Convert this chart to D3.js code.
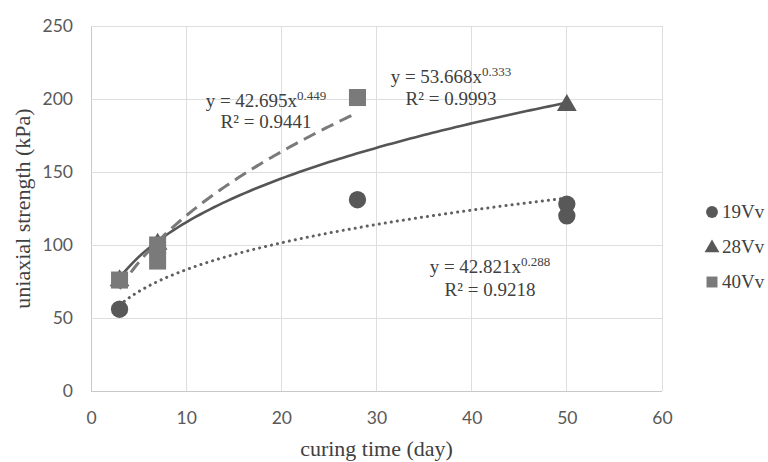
<!DOCTYPE html>
<html><head><meta charset="utf-8">
<script src="https://cdn.jsdelivr.net/npm/d3@7"></script>
<style>body{margin:0;background:#fff}svg{display:block}</style>
</head><body>
<svg id="c" width="768" height="462"></svg>
<script>
const xTicks = [0,10,20,30,40,50,60];
const yTicks = [0,50,100,150,200,250];
const series = ["19Vv","28Vv","40Vv"];
const days19 = [3,28,50,50];
const vals19 = [56,131,128,120];
const days28 = [3,7,50];
const vals28 = [77,102,197];
const days40 = [3,7,7,28];
const vals40 = [76,100,89,201];
const fitA = [42.821,53.668,42.695];
const fitB = [0.288,0.333,0.449];
const fitRange = [[3,50],[3,50],[3,28]];
const fitR2 = ["0.9218","0.9993","0.9441"];

const svg = d3.select("#c");
const x = d3.scaleLinear().domain([0,60]).range([91,662]);
const y = d3.scaleLinear().domain([0,250]).range([391,26]);

// gridlines
svg.append("g").selectAll("line.v").data(xTicks).join("line")
  .attr("x1",d=>x(d)).attr("x2",d=>x(d)).attr("y1",y(0)).attr("y2",y(250))
  .attr("stroke",d=>d===0?"#c8c8c8":"#dedede").attr("stroke-width",1).attr("shape-rendering","crispEdges");
svg.append("g").selectAll("line.h").data(yTicks).join("line")
  .attr("x1",x(0)).attr("x2",x(60)).attr("y1",d=>y(d)).attr("y2",d=>y(d))
  .attr("stroke",d=>d===0?"#c8c8c8":"#dedede").attr("stroke-width",1).attr("shape-rendering","crispEdges");

// axes via d3 axis (labels only)
const xAxis = svg.append("g").attr("transform",`translate(0,${y(0)})`)
  .call(d3.axisBottom(x).tickValues(xTicks).tickSize(0).tickPadding(21));
const yAxis = svg.append("g").attr("transform",`translate(${x(0)},0)`)
  .call(d3.axisLeft(y).tickValues(yTicks).tickSize(0).tickPadding(18));
[xAxis,yAxis].forEach(g=>{
  g.select(".domain").remove();
  g.selectAll("text").attr("font-family","Lato, 'Open Sans', sans-serif").attr("font-size",17.5).attr("fill","#595959");
});

// axis titles
const serif = "'Liberation Serif', 'Times New Roman', serif";
svg.append("text").attr("x",(x(0)+x(60))/2).attr("y",456).attr("text-anchor","middle")
  .attr("font-family",serif).attr("font-size",22).attr("fill","#404040")
  .text("curing time (day)");
svg.append("text").attr("transform",`translate(30,${(y(0)+y(250))/2}) rotate(-90)`).attr("text-anchor","middle")
  .attr("font-family",serif).attr("font-size",22).attr("fill","#404040")
  .text("uniaxial strength (kPa)");

// trendlines
const styles = [
  {stroke:"#606060", w:3, dash:"0.1 6", cap:"round"},
  {stroke:"#555555", w:2.6, dash:null, cap:"butt"},
  {stroke:"#7a7a7a", w:3, dash:"13 7", cap:"butt"}
];
const line = d3.line().x(d=>x(d[0])).y(d=>y(d[1])).curve(d3.curveLinear);
series.forEach((s,i)=>{
  const [a,b] = fitRange[i];
  const pts = d3.range(0,101).map(k=>{const t=a+(b-a)*k/100; return [t, fitA[i]*Math.pow(t,fitB[i])];});
  const p = svg.append("path").attr("d",line(pts)).attr("fill","none")
    .attr("stroke",styles[i].stroke).attr("stroke-width",styles[i].w).attr("stroke-linecap",styles[i].cap);
  if(styles[i].dash) p.attr("stroke-dasharray",styles[i].dash);
});

// markers
const sym = {
  "19Vv": d3.symbol().type(d3.symbolCircle).size(235),
  "28Vv": d3.symbol().type(d3.symbolTriangle).size(170),
  "40Vv": d3.symbol().type(d3.symbolSquare).size(290)
};
const fill = {"19Vv":"#585858","28Vv":"#585858","40Vv":"#7a7a7a"};
const data = {
  "19Vv": days19.map((d,i)=>[d,vals19[i]]),
  "28Vv": days28.map((d,i)=>[d,vals28[i]]),
  "40Vv": days40.map((d,i)=>[d,vals40[i]])
};
["28Vv","40Vv","19Vv"].forEach(s=>{
  svg.append("g").selectAll("path").data(data[s]).join("path")
    .attr("d",sym[s]()).attr("fill",fill[s])
    .attr("transform",d=>`translate(${x(d[0])},${y(d[1])+(s==="28Vv"?2:0)})`);
});

// equations
const eqPos = [[490,273,296],[451,83,105],[266,107,128]];
series.forEach((s,i)=>{
  const [cx,y1,y2] = eqPos[i];
  const t = svg.append("text").attr("x",cx).attr("y",y1).attr("text-anchor","middle")
    .attr("font-family",serif).attr("font-size",19).attr("fill","#404040");
  t.append("tspan").text(`y = ${fitA[i].toFixed(3)}x`);
  t.append("tspan").attr("dy",-7).attr("font-size",13).text(fitB[i].toFixed(3));
  svg.append("text").attr("x",cx).attr("y",y2).attr("text-anchor","middle")
    .attr("font-family",serif).attr("font-size",19).attr("fill","#404040")
    .text(`R² = ${fitR2[i]}`);
});

// legend
const lg = svg.append("g");
series.forEach((s,i)=>{
  const ly = 212 + i*35;
  const symL = d3.symbol().type(s==="19Vv"?d3.symbolCircle:s==="28Vv"?d3.symbolTriangle:d3.symbolSquare)
    .size(s==="19Vv"?110:s==="28Vv"?95:120);
  lg.append("path").attr("d",symL()).attr("fill",fill[s]).attr("transform",`translate(712,${ly+(s==="28Vv"?1:0)})`);
  lg.append("text").attr("x",722).attr("y",ly+6).attr("font-family",serif).attr("font-size",19)
    .attr("fill","#404040").text(s);
});
</script>
</body></html>
